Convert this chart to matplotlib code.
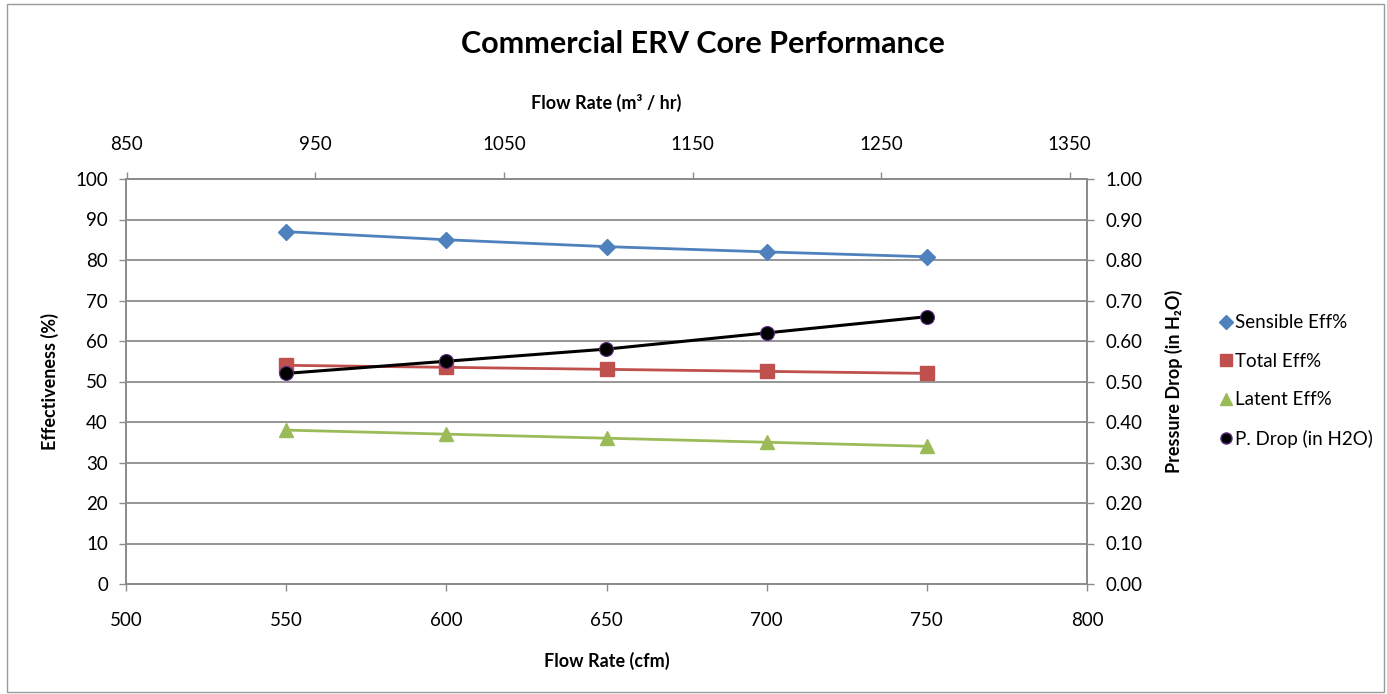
import matplotlib
matplotlib.use("Agg")
import matplotlib.pyplot as plt
from matplotlib.lines import Line2D
from matplotlib.patches import Rectangle

# ---- data ----
flow_cfm = [550, 600, 650, 700, 750]
sensible_eff = [87.0, 85.0, 83.3, 82.0, 80.8]
total_eff = [54.0, 53.5, 53.0, 52.5, 52.0]
latent_eff = [38.0, 37.0, 36.0, 35.0, 34.0]
p_drop = [0.52, 0.55, 0.58, 0.62, 0.66]

series_labels = ["Sensible Eff%", "Total Eff%", "Latent Eff%", "P. Drop (in H2O)"]
M3H_PER_CFM = 1.699

title = "Commercial ERV Core Performance"
x_label = "Flow Rate (cfm)"
x2_label = "Flow Rate (m³ / hr)"
y_label = "Effectiveness (%)"
y2_label = "Pressure Drop (in H₂O)"

plt.rcParams['font.family'] = ['Lato', 'DejaVu Sans']

W, H = 1387, 694
fig = plt.figure(figsize=(W / 100, H / 100), dpi=100)

# chart border
fig.patches.append(Rectangle((7 / W, 2 / H), (W - 10) / W, (H - 6) / H,
                             transform=fig.transFigure, fill=False,
                             edgecolor='#9a9a9a', linewidth=1.0))

left, right, top, bottom = 126, 1087, 179, 584
ax = fig.add_axes([left / W, 1 - bottom / H, (right - left) / W, (bottom - top) / H])

c_blue = '#4F81BD'
c_red = '#C0504D'
c_green = '#9BBB59'
grid_c = '#8c8c8c'

ax.plot(flow_cfm, sensible_eff, color=c_blue, lw=2.0, marker='D', ms=8.5,
        markeredgecolor=c_blue, zorder=3)
ax.plot(flow_cfm, total_eff, color=c_red, lw=2.0, marker='s', ms=9.5,
        markeredgecolor=c_red, zorder=3)
ax.plot(flow_cfm, latent_eff, color=c_green, lw=2.0, marker='^', ms=10,
        markeredgecolor=c_green, zorder=3)

ax.set_xlim(500, 800)
ax.set_ylim(0, 100)
ax.set_xticks(range(500, 801, 50))
ax.set_yticks(range(0, 101, 10))
ax.yaxis.grid(True, color=grid_c, lw=1.3)
ax.set_axisbelow(True)

ax2 = ax.twinx()
ax2.plot(flow_cfm, p_drop, color='black', lw=2.2, marker='o', ms=10,
         markeredgecolor='#5a2d82', markeredgewidth=0.8, zorder=4)
ax2.set_ylim(0, 1.0)
ax2.set_yticks([i / 10 for i in range(11)])
ax2.set_yticklabels([f"{i / 10:.2f}" for i in range(11)])

ax3 = ax.twiny()
ax3.set_xlim(500 * M3H_PER_CFM, 800 * M3H_PER_CFM)
ax3.set_xticks(range(850, 1351, 100))

for a in (ax, ax2, ax3):
    a.patch.set_visible(False)
    for s in a.spines.values():
        s.set_color(grid_c)
        s.set_linewidth(1.3)
    a.tick_params(colors=grid_c, labelcolor='black', labelsize=13.5, length=5,
                  width=1.0, direction='out')

ax.tick_params(axis='y', pad=8)
ax.tick_params(axis='x', pad=15)
ax2.tick_params(axis='y', pad=8)
ax3.tick_params(axis='x', pad=14)

ax.set_xlabel(x_label, fontsize=13, fontweight='bold', labelpad=17)
ax.set_ylabel(y_label, fontsize=13, fontweight='bold', labelpad=12)
ax2.set_ylabel(y2_label, fontsize=13, fontweight='bold', labelpad=16)
ax3.set_xlabel(x2_label, fontsize=13, fontweight='bold', labelpad=19)

fig.text(0.5065, 1 - 44 / H, title, ha='center', va='center', fontsize=22,
         fontweight='bold')

handles = [
    Line2D([], [], ls='none', marker='D', ms=7, color=c_blue),
    Line2D([], [], ls='none', marker='s', ms=9, color=c_red),
    Line2D([], [], ls='none', marker='^', ms=9, color=c_green),
    Line2D([], [], ls='none', marker='o', ms=8, color='black',
           markeredgecolor='#5a2d82'),
]
fig.legend(handles, series_labels, loc='center left',
           bbox_to_anchor=(1211 / W, 1 - 381 / H), frameon=False,
           fontsize=13.5, handlelength=0.8, handletextpad=0.1,
           labelspacing=1.15, borderaxespad=0)

fig.savefig("out.png", dpi=100)
